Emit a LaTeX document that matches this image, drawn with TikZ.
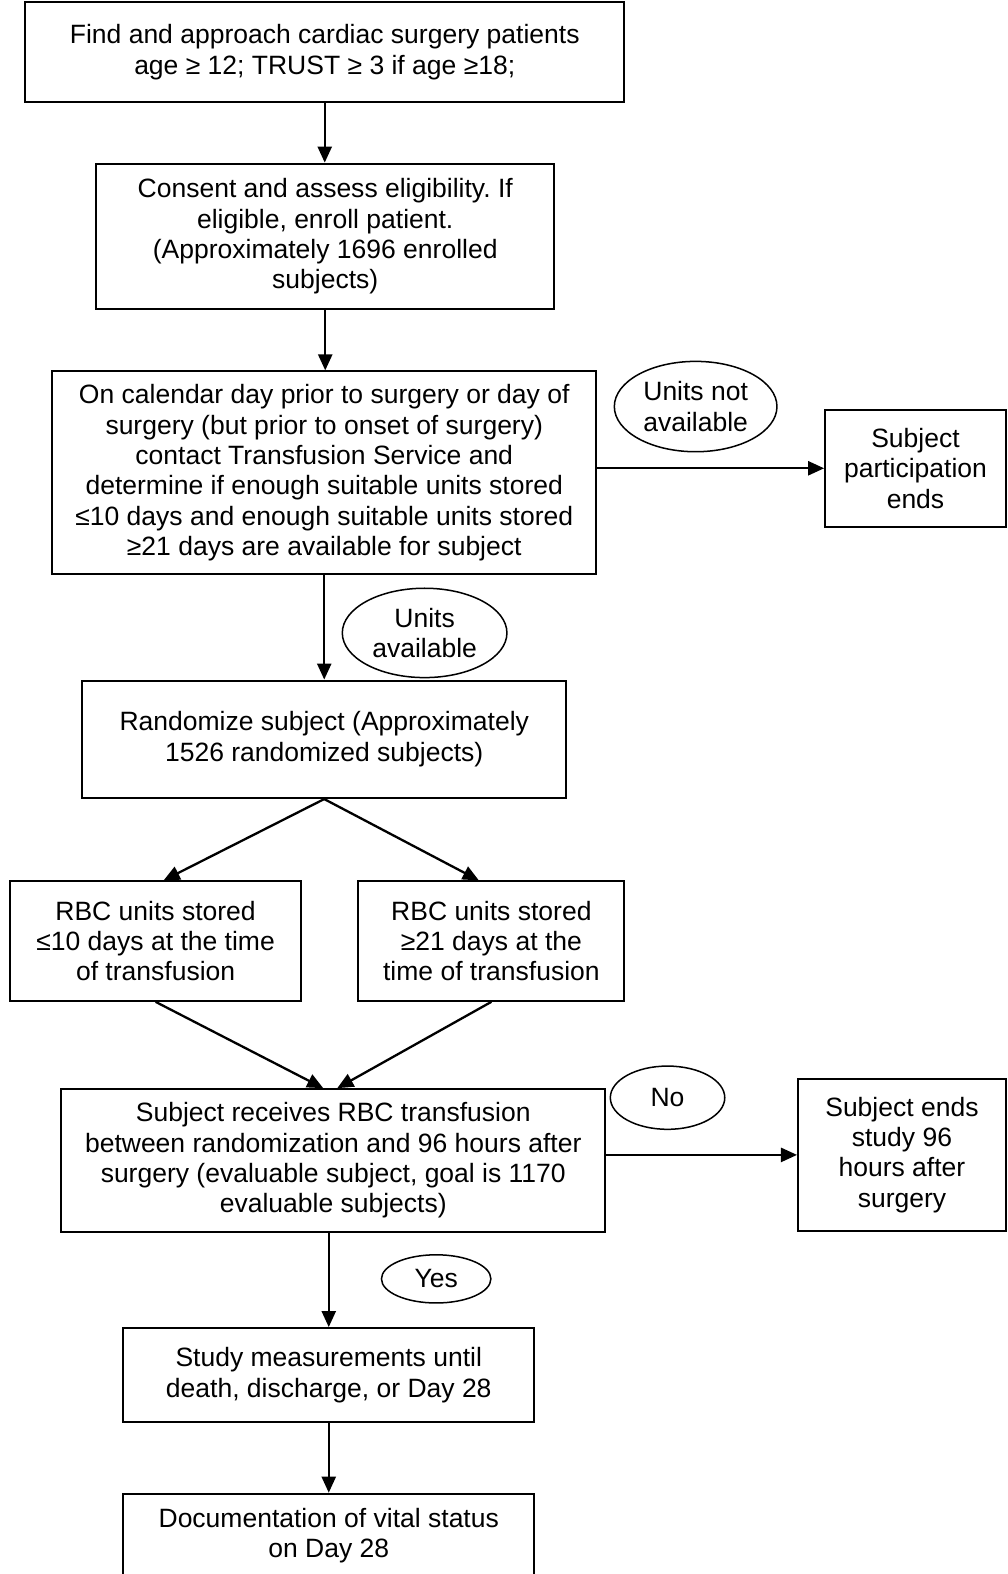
\documentclass[tikz,border=0pt]{standalone}
\usepackage{fontspec}
\setmainfont{Liberation Sans}
\usetikzlibrary{shapes.geometric,arrows.meta}
\frenchspacing
\tikzset{
  txt/.style={font=\fontsize{26.4}{30.3}\selectfont\frenchspacing},
  box/.style={txt, draw, line width=2pt, align=center, inner sep=0pt},
  oval/.style={txt, draw, ellipse, line width=1.5pt, align=center, inner sep=0pt},
  arr/.style={line width=2.3pt, -{Triangle[length=16pt,width=14pt]}}
}
\begin{document}
\begin{tikzpicture}[x=1pt,y=-1pt]
\useasboundingbox (0,0) rectangle (1004,1568);
\clip (0,0) rectangle (1004,1568);
\node[box, minimum width=597pt, minimum height=100pt] (b1) at (323.5,52)
  {Find and approach cardiac surgery patients\\age ≥ 12; TRUST ≥ 3 if age ≥18;};
\node[box, minimum width=456pt, minimum height=145pt] (b2) at (324,235.5)
  {Consent and assess eligibility. If\\eligible, enroll patient.\\(Approximately 1696 enrolled\\subjects)};
\node[box, minimum width=542pt, minimum height=202pt] (b3) at (323,471)
  {On calendar day prior to surgery or day of\\surgery (but prior to onset of surgery)\\contact Transfusion Service and\\determine if enough suitable units stored\\≤10 days and enough suitable units stored\\≥21 days are available for subject};
\node[box, minimum width=180pt, minimum height=117pt] (pe) at (912,466.5)
  {Subject\\participation\\ends};
\node[oval, minimum width=162pt, minimum height=90pt] (e1) at (693,405)
  {Units not\\available};
\node[oval, minimum width=164pt, minimum height=89pt] (e2) at (423,630.5)
  {Units\\available};
\node[box, minimum width=482pt, minimum height=117pt] (b4) at (323,736.5)
  {Randomize subject (Approximately\\1526 randomized subjects)};
\node[box, minimum width=290pt, minimum height=119pt] (b5) at (155,937.5)
  {RBC units stored\\≤10 days at the time\\of transfusion};
\node[box, minimum width=265pt, minimum height=119pt] (b6) at (489.5,937.5)
  {RBC units stored\\≥21 days at the\\time of transfusion};
\node[box, minimum width=542pt, minimum height=142pt] (b7) at (332,1156)
  {Subject receives RBC transfusion\\between randomization and 96 hours after\\surgery (evaluable subject, goal is 1170\\evaluable subjects)};
\node[oval, minimum width=114pt, minimum height=63pt] (e3) at (665,1093.5) {No};
\node[box, minimum width=207pt, minimum height=151pt] (se) at (898.5,1150.5)
  {Subject ends\\study 96\\hours after\\surgery};
\node[oval, minimum width=109pt, minimum height=48pt] (e4) at (434.5,1274) {Yes};
\node[box, minimum width=409pt, minimum height=94pt] (b8) at (327.5,1370)
  {Study measurements until\\death, discharge, or Day 28};
\node[box, minimum width=409pt, minimum height=84pt] (b9) at (327.5,1530)
  {Documentation of vital status\\on Day 28};
\draw[arr] (b1.south) -- (b1.south |- b2.north);
\draw[arr] (b2.south) -- (b2.south |- b3.north);
\draw[arr] (pe.west -| b3.east) -- (pe.west);
\draw[arr] (b3.south) -- (b3.south |- b4.north);
\draw[arr] (b4.south) -- ([xshift=8pt]b5.north);
\draw[arr] (b4.south) -- ([xshift=-12.5pt]b6.north);
\draw[arr] (b5.south) -- ([xshift=-10pt]b7.north);
\draw[arr] (b6.south) -- ([xshift=4pt]b7.north);
\draw[arr] (se.west -| b7.east) -- (se.west);
\draw[arr] (b8.north |- b7.south) -- (b8.north);
\draw[arr] (b8.south) -- (b9.north);
\end{tikzpicture}
\end{document}
